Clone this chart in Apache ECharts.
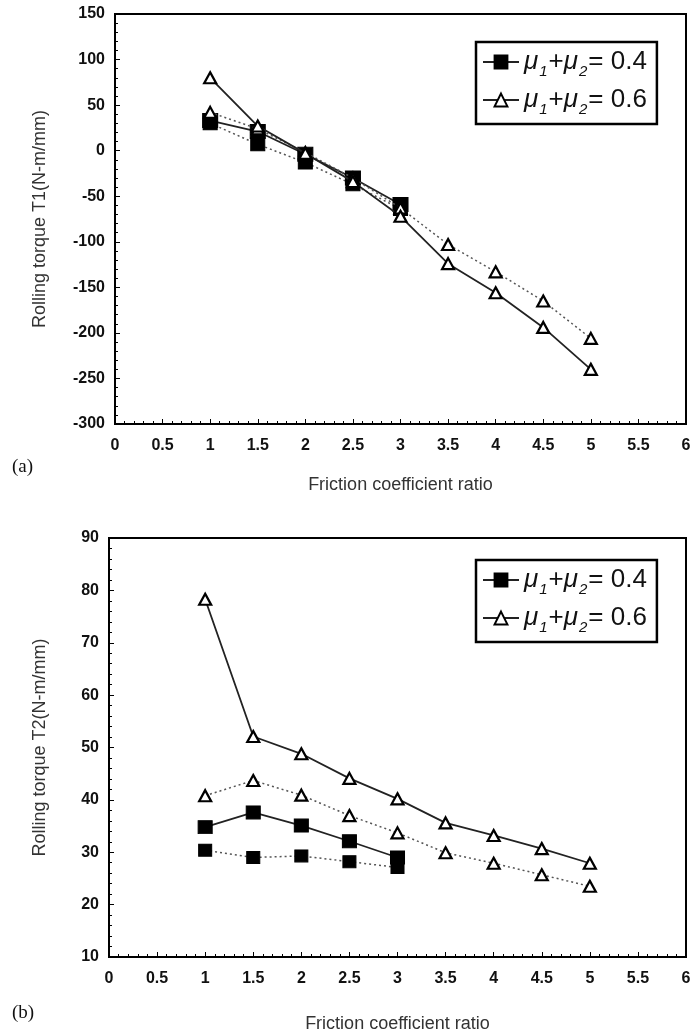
<!DOCTYPE html>
<html>
<head>
<meta charset="utf-8">
<script src="https://cdn.jsdelivr.net/npm/echarts@6/dist/echarts.min.js"></script>
<style>
  html, body { margin: 0; padding: 0; background: #fff; }
  #chart { width: 694px; height: 1034px; }
</style>
</head>
<body>
<div id="chart"></div>
<script>
// x positions (friction coefficient ratio)
const ratioShort = [1, 1.5, 2, 2.5, 3];
const ratioLong = [1, 1.5, 2, 2.5, 3, 3.5, 4, 4.5, 5];

// (a) rolling torque T1
const t1SquareSolid = [33, 21, -4, -30, -59];
const t1SquareDot = [30, 7, -13, -37, -64];
const t1TriSolid = [80, 27, -3, -34, -72, -124, -156, -194, -240];
const t1TriDot = [42, 24, -2, -30, -63, -103, -133, -165, -206];

// (b) rolling torque T2
const t2SquareSolid = [34.8, 37.6, 35.1, 32.1, 29.0];
const t2SquareDot = [30.4, 29.0, 29.3, 28.2, 27.1];
const t2TriSolid = [78.3, 52.1, 48.8, 44.1, 40.2, 35.6, 33.2, 30.7, 27.9];
const t2TriDot = [40.8, 43.7, 40.9, 37.0, 33.7, 29.9, 27.9, 25.7, 23.5];

const legendNames = ['μ1+μ2= 0.4', 'μ1+μ2= 0.6'];

function pairs(xs, ys) {
  return xs.map((x, i) => [x, ys[i]]);
}

const chart = echarts.init(document.getElementById('chart'));

const tickFont = { fontFamily: 'Liberation Sans', fontWeight: 'bold', fontSize: 16, color: '#111' };

function xAxisFor(gridIndex, gap) {
  return {
    gridIndex: gridIndex,
    type: 'value',
    min: 0, max: 6, interval: 0.5,
    name: 'Friction coefficient ratio',
    nameLocation: 'middle',
    nameGap: gap,
    nameTextStyle: { fontFamily: 'Liberation Sans', fontSize: 18, color: '#333' },
    axisLine: { onZero: false, lineStyle: { color: '#000', width: 2 } },
    axisTick: { inside: true, length: 5, lineStyle: { color: '#000' } },
    minorTick: { show: true, splitNumber: 5, length: 3, lineStyle: { color: '#000' } },
    axisLabel: Object.assign({ margin: 14 }, tickFont),
    splitLine: { show: false }
  };
}

function yAxisFor(gridIndex, min, max, interval, name, gap) {
  return {
    gridIndex: gridIndex,
    type: 'value',
    min: min, max: max, interval: interval,
    name: name,
    nameLocation: 'middle',
    nameGap: gap,
    nameTextStyle: { fontFamily: 'Liberation Sans', fontSize: 18, color: '#333' },
    axisLine: { onZero: false, lineStyle: { color: '#000', width: 2 } },
    axisTick: { inside: true, length: 5, lineStyle: { color: '#000' } },
    minorTick: { show: true, splitNumber: 5, length: 3, lineStyle: { color: '#000' } },
    axisLabel: Object.assign({ margin: 10 }, tickFont),
    splitLine: { show: false }
  };
}

function squareSeries(name, xi, yi, data, dotted, size) {
  return {
    name: name,
    type: 'line',
    xAxisIndex: xi, yAxisIndex: yi,
    data: data,
    symbol: 'rect',
    symbolSize: size,
    itemStyle: { color: '#000', borderColor: '#000', borderWidth: 1 },
    lineStyle: dotted ? { color: '#555', width: 1.5, type: [2, 3] } : { color: '#222', width: 1.8 },
    emphasis: { disabled: true },
    z: 3
  };
}

function triSeries(name, xi, yi, data, dotted) {
  return {
    name: name,
    type: 'line',
    xAxisIndex: xi, yAxisIndex: yi,
    data: data,
    symbol: 'triangle',
    symbolSize: [12, 11],
    itemStyle: { color: '#fff', borderColor: '#000', borderWidth: 2.2 },
    lineStyle: dotted ? { color: '#555', width: 1.5, type: [2, 3] } : { color: '#222', width: 1.8 },
    emphasis: { disabled: true },
    z: 4
  };
}

function legendFor(top) {
  return {
    data: legendNames,
    orient: 'vertical',
    left: 476,
    top: top,
    backgroundColor: '#fff',
    borderColor: '#000',
    borderWidth: 2.5,
    padding: [7, 10, 7, 6],
    itemGap: 8,
    itemWidth: 36,
    itemHeight: 16,
    selectedMode: false,
    formatter: function (name) {
      const v = name.split('= ')[1];
      return '{m|μ}{s|1}{t|+}{m|μ}{s|2}{t|= ' + v + '}';
    },
    textStyle: {
      fontFamily: 'Liberation Sans',
      fontSize: 26,
      color: '#111',
      rich: {
        m: { fontFamily: 'Liberation Sans', fontStyle: 'italic', fontSize: 26, color: '#111' },
        s: { fontFamily: 'Liberation Sans', fontStyle: 'italic', fontSize: 15, color: '#111', verticalAlign: 'bottom', padding: [0, 1, -4, 1] },
        t: { fontFamily: 'Liberation Sans', fontSize: 26, color: '#111' }
      }
    }
  };
}

chart.setOption({
  animation: false,
  backgroundColor: '#fff',
  grid: [
    { left: 115, right: 8, top: 14, height: 410, show: true, borderColor: '#000', borderWidth: 2, backgroundColor: 'transparent' },
    { left: 109, right: 8, top: 538, height: 423, show: true, borderColor: '#000', borderWidth: 2, backgroundColor: 'transparent' }
  ],
  legend: [legendFor(42), legendFor(560)],
  xAxis: [xAxisFor(0, 52), xAxisFor(1, 58)],
  yAxis: [
    yAxisFor(0, -300, 150, 50, 'Rolling torque T1(N-m/mm)', 66),
    yAxisFor(1, 10, 90, 10, 'Rolling torque T2(N-m/mm)', 60)
  ],
  graphic: [
    { type: 'text', left: 12, top: 458, style: { text: '(a)', font: '19px "Liberation Serif"', fill: '#111' } },
    { type: 'text', left: 12, top: 1004, style: { text: '(b)', font: '19px "Liberation Serif"', fill: '#111' } }
  ],
  series: [
    squareSeries('a-sq-dot', 0, 0, pairs(ratioShort, t1SquareDot), true, [14, 13]),
    triSeries('a-tri-dot', 0, 0, pairs(ratioLong, t1TriDot), true),
    squareSeries(legendNames[0], 0, 0, pairs(ratioShort, t1SquareSolid), false, [15, 14]),
    triSeries(legendNames[1], 0, 0, pairs(ratioLong, t1TriSolid), false),
    squareSeries('b-sq-dot', 1, 1, pairs(ratioShort, t2SquareDot), true, [13, 12]),
    triSeries('b-tri-dot', 1, 1, pairs(ratioLong, t2TriDot), true),
    squareSeries(legendNames[0], 1, 1, pairs(ratioShort, t2SquareSolid), false, [14, 13]),
    triSeries(legendNames[1], 1, 1, pairs(ratioLong, t2TriSolid), false)
  ]
});
</script>
</body>
</html>
